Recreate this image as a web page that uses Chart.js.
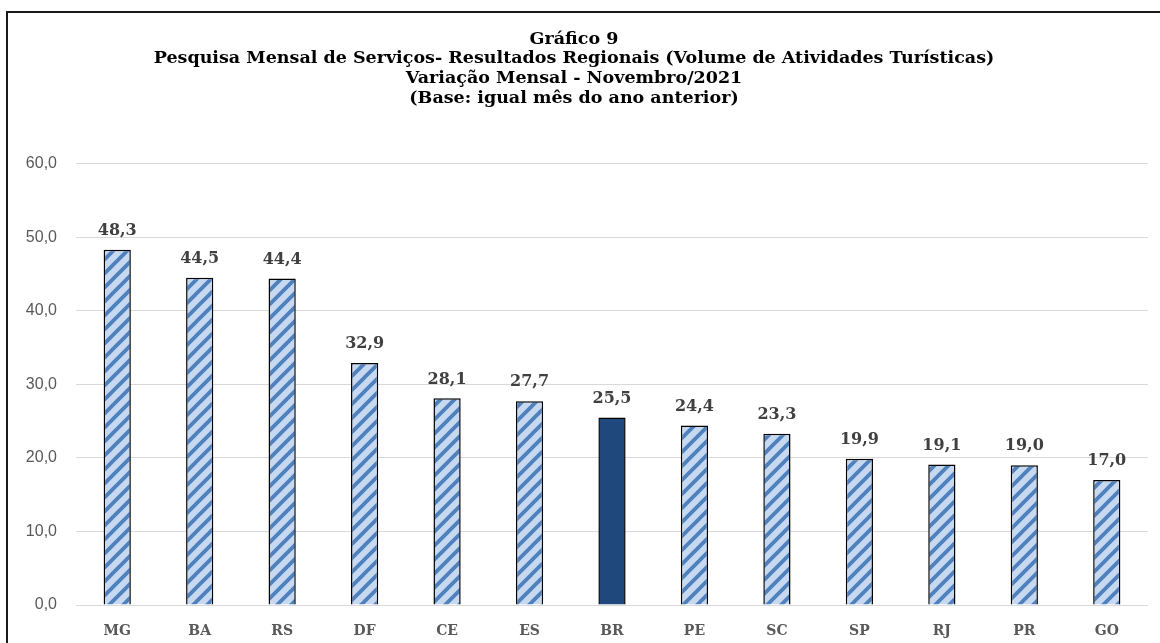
<!DOCTYPE html>
<html>
<head>
<meta charset="utf-8">
<script src="https://cdn.jsdelivr.net/npm/chart.js@4.4.1/dist/chart.umd.min.js"></script>
<style>
  html, body { margin: 0; padding: 0; background: #fff; }
  #wrap { width: 1160px; height: 643px; }
</style>
</head>
<body>
<div id="wrap"><canvas id="barChart"></canvas></div>
<script>
var states = ['MG', 'BA', 'RS', 'DF', 'CE', 'ES', 'BR', 'PE', 'SC', 'SP', 'RJ', 'PR', 'GO'];
var variacao = [48.3, 44.5, 44.4, 32.9, 28.1, 27.7, 25.5, 24.4, 23.3, 19.9, 19.1, 19.0, 17.0];
var yTicks = [0, 10, 20, 30, 40, 50, 60];
var titleLines = [
    'Gráfico 9',
    'Pesquisa Mensal de Serviços- Resultados Regionais (Volume de Atividades Turísticas)',
    'Variação Mensal - Novembro/2021',
    '(Base: igual mês do ano anterior)'
];

function fmt(v) {
    return v.toFixed(1).replace('.', ',');
}

// hatch pattern like the excel "wide upward diagonal"
function makeStripes() {
    var c = document.createElement('canvas');
    c.width = 14;
    c.height = 14;
    var g = c.getContext('2d');
    g.fillStyle = '#c6d9f1';
    g.fillRect(0, 0, 14, 14);
    g.strokeStyle = '#4f81bd';
    g.lineWidth = 3.8;
    g.beginPath();
    g.moveTo(-2, 16); g.lineTo(16, -2);
    g.moveTo(-9, 9); g.lineTo(9, -9);
    g.moveTo(5, 23); g.lineTo(23, 5);
    g.stroke();
    return g.createPattern(c, 'repeat');
}

var ctx1 = document.getElementById('barChart').getContext('2d');
var stripes = makeStripes();
var colors = states.map(function (s) { return s === 'BR' ? '#1f497d' : stripes; });

var framePlugin = {
    id: 'frame',
    beforeDraw: function (chart) {
        var c = chart.ctx;
        c.save();
        c.fillStyle = '#fff';
        c.fillRect(0, 0, chart.width, chart.height);
        c.strokeStyle = '#1a1a1a';
        c.lineWidth = 2;
        c.beginPath();
        c.moveTo(7, chart.height);
        c.lineTo(7, 12);
        c.lineTo(chart.width, 12);
        c.stroke();
        c.restore();
    }
};

var valueLabels = {
    id: 'valueLabels',
    afterDatasetsDraw: function (chart) {
        var c = chart.ctx;
        var meta = chart.getDatasetMeta(0);
        c.save();
        c.font = 'bold 16px "DejaVu Serif"';
        c.fillStyle = '#404040';
        c.textAlign = 'center';
        c.textBaseline = 'bottom';
        meta.data.forEach(function (bar, i) {
            c.fillText(fmt(variacao[i]), bar.x, bar.y - 11);
        });
        c.restore();
    }
};

var barChart = new Chart(ctx1, {
    type: 'bar',
    data: {
        labels: states,
        datasets: [{
            data: variacao,
            backgroundColor: colors,
            borderColor: '#000',
            borderWidth: 1.5,
            barPercentage: 0.66,
            categoryPercentage: 0.5
        }]
    },
    options: {
        responsive: true,
        maintainAspectRatio: false,
        animation: false,
        layout: {
            padding: { top: 29, left: 0, right: 12, bottom: 0 }
        },
        plugins: {
            legend: { display: false },
            tooltip: { enabled: false },
            title: {
                display: true,
                text: titleLines,
                color: '#000',
                font: { family: '"DejaVu Serif"', size: 17.5, weight: 'bold', lineHeight: 1.14 },
                padding: { top: 0, bottom: 55 }
            }
        },
        scales: {
            x: {
                afterFit: function (scale) {
                    scale.height = 38;
                },
                grid: { display: false, drawTicks: false },
                border: { display: false },
                ticks: {
                    color: '#595959',
                    padding: 18,
                    font: { family: '"DejaVu Serif"', size: 14, weight: 'bold' }
                }
            },
            y: {
                min: 0,
                max: 60,
                afterBuildTicks: function (scale) {
                    scale.ticks = yTicks.map(function (v) { return { value: v }; });
                },
                afterFit: function (scale) {
                    scale.width = 76;
                },
                grid: { color: '#d9d9d9', lineWidth: 1, drawTicks: false },
                border: { display: false },
                ticks: {
                    color: '#595959',
                    padding: 19,
                    font: { family: '"Liberation Sans"', size: 16 },
                    callback: function (v) { return fmt(v); }
                }
            }
        }
    },
    plugins: [framePlugin, valueLabels]
});
</script>
</body>
</html>
